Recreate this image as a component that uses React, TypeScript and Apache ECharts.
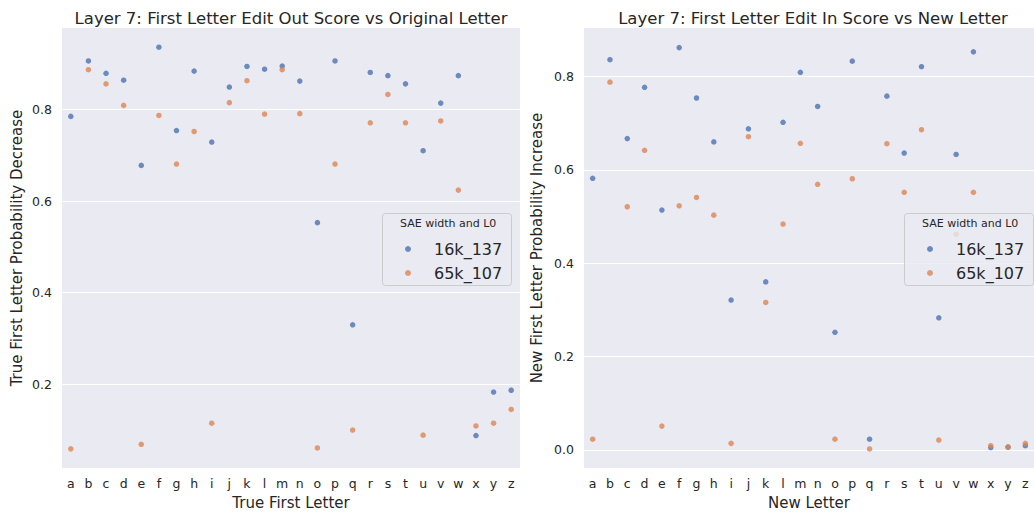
import React, { useEffect, useRef } from "react";
import * as echarts from "echarts";

const letters = "abcdefghijklmnopqrstuvwxyz".split("");

// Left panel: True First Letter Probability Decrease
const outBlue = [0.785, 0.906, 0.879, 0.864, 0.678, 0.936, 0.754, 0.884, 0.729, 0.849, 0.894, 0.888, 0.895,
  0.862, 0.553, 0.906, 0.330, 0.881, 0.874, 0.856, 0.710, 0.814, 0.874, 0.088, 0.183, 0.187];
const outOrange = [0.059, 0.887, 0.856, 0.809, 0.069, 0.787, 0.681, 0.752, 0.115, 0.815, 0.863, 0.790, 0.887,
  0.791, 0.061, 0.681, 0.100, 0.771, 0.833, 0.771, 0.089, 0.775, 0.624, 0.109, 0.115, 0.145];

// Right panel: New First Letter Probability Increase
const inBlue = [0.582, 0.836, 0.667, 0.777, 0.514, 0.862, 0.754, 0.660, 0.321, 0.688, 0.360, 0.702, 0.809,
  0.736, 0.252, 0.833, 0.023, 0.758, 0.636, 0.821, 0.283, 0.633, 0.853, 0.005, 0.006, 0.009];
const inOrange = [0.023, 0.788, 0.521, 0.642, 0.051, 0.523, 0.541, 0.503, 0.014, 0.671, 0.316, 0.484, 0.657,
  0.569, 0.023, 0.581, 0.002, 0.656, 0.552, 0.686, 0.021, 0.462, 0.552, 0.009, 0.006, 0.014];

const seriesNames = ["16k_137", "65k_107"];
const colors = ["#4c72b0", "#dd8452"];

const FONT = "DejaVu Sans";
const TXT = "#262626";

export default function App() {
  const ref = useRef<HTMLDivElement>(null);
  useEffect(() => {
    if (!ref.current) return;
    const chart = echarts.init(ref.current, null, { renderer: "svg" });
    const grids = [
      { left: 62, top: 28, width: 458, height: 443 },
      { left: 584, top: 28, width: 458, height: 443 },
    ];
    const xAxis = [0, 1].map((i) => ({
      type: "category",
      gridIndex: i,
      data: letters,
      boundaryGap: true,
      name: i === 0 ? "True First Letter" : "New Letter",
      nameLocation: "middle",
      nameGap: 26,
      nameTextStyle: { fontFamily: FONT, fontSize: 15, color: TXT },
      axisLine: { show: false },
      axisTick: { show: false },
      axisLabel: { fontFamily: FONT, fontSize: 12.5, color: TXT, margin: 9, interval: 0 },
      splitLine: { show: false },
    }));
    const yAxis = [
      { min: 0.017, max: 0.978, name: "True First Letter Probability Decrease" },
      { min: -0.039, max: 0.904, name: "New First Letter Probability Increase" },
    ].map((a, i) => ({
      type: "value",
      gridIndex: i,
      min: a.min,
      max: a.max,
      name: a.name,
      nameLocation: "middle",
      nameGap: i === 0 ? 38 : 40,
      nameTextStyle: { fontFamily: FONT, fontSize: 15, color: TXT },
      axisLine: { show: false },
      axisTick: { show: false },
      axisLabel: {
        fontFamily: FONT,
        fontSize: 12.5,
        color: TXT,
        margin: 10,
        showMinLabel: false,
        showMaxLabel: false,
        formatter: (v: number) => v.toFixed(1),
      },
      splitLine: { show: true, showMinLine: false, showMaxLine: false, lineStyle: { color: "#ffffff", width: 1.2 } },
    }));
    const mk = (name: string, data: number[], idx: number, color: string) => ({
      type: "scatter",
      name,
      xAxisIndex: idx,
      yAxisIndex: idx,
      data,
      symbolSize: 5.5,
      itemStyle: { color },
    });
    const legendBox = (x: number) => [
      {
        type: "rect",
        left: x,
        top: 213,
        shape: { width: 129, height: 72, r: 3 },
        style: { fill: "rgba(234,234,242,0.8)", stroke: "#cccccc", lineWidth: 1 },
        z: 50,
      },
      {
        type: "text",
        left: x + 18,
        top: 218,
        style: { text: "SAE width and L0", font: `11px '${FONT}'`, fill: TXT },
        z: 51,
      },
    ];
    const legendCfg = (x: number) => ({
      orient: "vertical",
      left: x,
      top: 236,
      itemWidth: 6,
      itemHeight: 6,
      itemGap: 8,
      icon: "circle",
      data: seriesNames,
      textStyle: { fontFamily: FONT, fontSize: 16, color: TXT, padding: [0, 0, 0, 18] },
      z: 60,
    });
    chart.setOption({
      animation: false,
      backgroundColor: "#ffffff",
      title: [
        {
          text: "Layer 7: First Letter Edit Out Score vs Original Letter",
          left: 286,
          top: 5,
          textAlign: "center",
          textStyle: { fontFamily: FONT, fontSize: 16.5, fontWeight: "normal", color: TXT },
        },
        {
          text: "Layer 7: First Letter Edit In Score vs New Letter",
          left: 808,
          top: 5,
          textAlign: "center",
          textStyle: { fontFamily: FONT, fontSize: 16.5, fontWeight: "normal", color: TXT },
        },
      ],
      grid: grids.map((g) => ({ ...g, show: true, backgroundColor: "#eaeaf2", borderWidth: 0, containLabel: false })),
      xAxis,
      yAxis,
      legend: [legendCfg(400), legendCfg(922)],
      graphic: [...legendBox(382), ...legendBox(904)],
      series: [
        mk(seriesNames[0], outBlue, 0, colors[0]),
        mk(seriesNames[1], outOrange, 0, colors[1]),
        mk(seriesNames[0], inBlue, 1, colors[0]),
        mk(seriesNames[1], inOrange, 1, colors[1]),
      ],
    });
    return () => chart.dispose();
  }, []);
  return (
    <div
      ref={ref}
      style={{ position: "fixed", left: 0, top: 0, width: 1034, height: 515, background: "#fff" }}
    />
  );
}
